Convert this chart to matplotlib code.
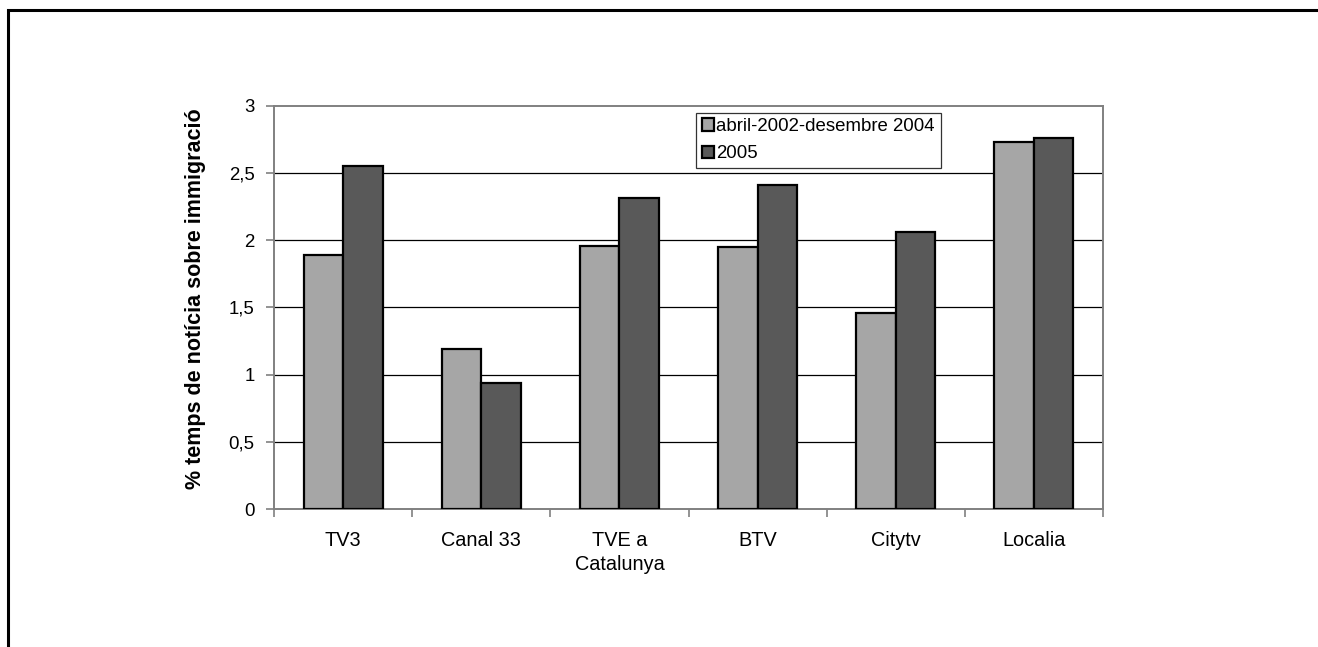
import matplotlib
matplotlib.use("Agg")
import matplotlib.pyplot as plt
import numpy as np
from matplotlib.patches import Rectangle

plt.rcParams['font.family'] = ['Liberation Sans', 'DejaVu Sans']

categories = ["TV3", "Canal 33", "TVE a\nCatalunya", "BTV", "Citytv", "Localia"]
series_names = ["abril-2002-desembre 2004", "2005"]
values_2002_2004 = [1.89, 1.19, 1.96, 1.95, 1.46, 2.73]
values_2005 = [2.55, 0.94, 2.31, 2.41, 2.06, 2.76]
yticks = [0, 0.5, 1, 1.5, 2, 2.5, 3]
ytick_labels = ["0", "0,5", "1", "1,5", "2", "2,5", "3"]
ylabel = "% temps de notícia sobre immigració"

FS = 13.4

fig = plt.figure(figsize=(13.18, 6.47), dpi=100)
ax = fig.add_axes([274/1318, 1-509/647, (1103-274)/1318, (509-105.7)/647])

# outer frame
fig.patches.append(Rectangle((8/1318, -0.2), 1.2, 0.2 + (1-10/647),
                             transform=fig.transFigure, fill=False,
                             edgecolor='black', linewidth=2.2, clip_on=False))

x = np.arange(len(categories))
w = 1/3.5
ax.bar(x - w/2, values_2002_2004, width=w, color='#A6A6A6', edgecolor='black',
       linewidth=1.6, label=series_names[0], zorder=3)
ax.bar(x + w/2, values_2005, width=w, color='#595959', edgecolor='black',
       linewidth=1.6, label=series_names[1], zorder=3)

ax.set_xlim(-0.5, len(categories) - 0.5)
ax.set_ylim(0, 3)
ax.set_yticks(yticks)
ax.set_yticklabels(ytick_labels, fontsize=FS)
ax.set_xticks(x)
ax.set_xticklabels(categories, fontsize=14.3, linespacing=1.35)
ax.tick_params(axis='x', length=0, pad=16)
ax.set_xticks(np.arange(-0.5, len(categories)), minor=True)
ax.tick_params(axis='x', which='minor', length=6, color='#808080', width=1.2)
ax.tick_params(axis='y', length=6, color='#808080', width=1.2, pad=8)

for y in yticks[1:-1]:
    ax.axhline(y, color='black', linewidth=0.9, zorder=1)

for s in ['left', 'bottom', 'right', 'top']:
    ax.spines[s].set_color('#808080')
    ax.spines[s].set_linewidth(1.4)

ax.set_ylabel(ylabel, fontsize=15.5, fontweight='bold')
ax.yaxis.set_label_coords(-0.082, 0.521)

leg = ax.legend(loc='upper left', bbox_to_anchor=(0.509, 0.983), fontsize=FS,
                frameon=True, fancybox=False, edgecolor='black',
                handlelength=0.65, handleheight=0.65, handletextpad=0.15,
                borderaxespad=0, borderpad=0.3, labelspacing=0.55)
leg.get_frame().set_linewidth(0.9)

fig.savefig("out.png", dpi=100)
